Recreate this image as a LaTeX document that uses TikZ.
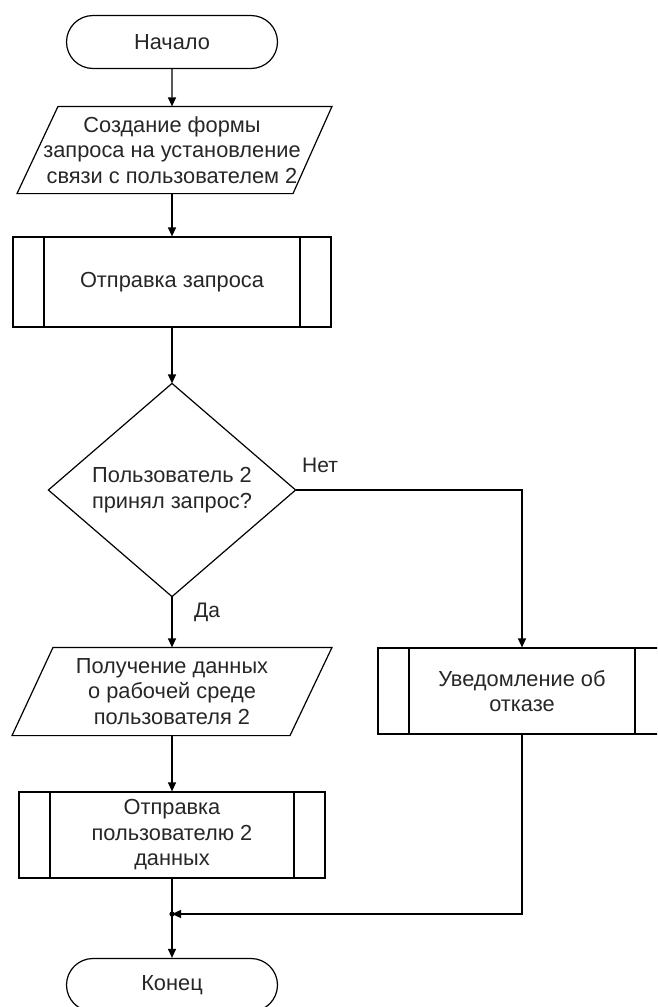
\documentclass[tikz,border=0pt]{standalone}
\usepackage{fontspec}
\setmainfont{Liberation Sans}
\usetikzlibrary{shapes.misc,arrows.meta,calc}
\begin{document}
\begin{tikzpicture}[x=1pt,y=-1pt,
  line width=1.2pt,
  every node/.style={text=black!85, font=\fontsize{21.8}{25.5}\selectfont, align=center, inner sep=0pt},
  term/.style={draw, rounded rectangle, minimum width=211pt, minimum height=53pt},
  proc/.style={draw, minimum height=86pt,
    path picture={
      \draw ([xshift=31pt]path picture bounding box.north west) -- ([xshift=31pt]path picture bounding box.south west);
      \draw ([xshift=-31pt]path picture bounding box.north east) -- ([xshift=-31pt]path picture bounding box.south east);
    }},
  plain/.style={minimum width=276pt, minimum height=86pt},
  arr/.style={-{Triangle[length=9pt,width=8pt]}},
  lbl/.style={font=\fontsize{21}{24}\selectfont}
]
\clip (0,0) rectangle (657,1007);

% start
\node[term] (start) at (172,42) {Начало};

% parallelogram 1
\node[plain] (p1) at (172,150) {Создание формы\\запроса на установление\\связи с пользователем 2};
\draw ($(p1.north)+(-114,0)$) -- ($(p1.north)+(160,0)$) -- ($(p1.south)+(121,0)$) -- ($(p1.south)+(-155,0)$) -- cycle;

% process 1
\node[proc, minimum width=318pt, minimum height=90pt] (b1) at (172,282) {Отправка запроса};

% decision
\node[minimum width=246pt, minimum height=212pt] (d) at (172,490) {Пользователь 2\\принял запрос?};
\draw (d.north) -- (d.east) -- (d.south) -- (d.west) -- cycle;

% parallelogram 2
\node[plain, minimum height=87pt] (p2) at (172,691.5) {Получение данных\\о рабочей среде\\пользователя 2};
\draw ($(p2.north)+(-119,0)$) -- ($(p2.north)+(160,0)$) -- ($(p2.south)+(118,0)$) -- ($(p2.south)+(-160,0)$) -- cycle;

% right process
\node[proc, minimum width=288pt] (rb) at (522,691) {Уведомление об\\отказе};

% process 3
\node[proc, minimum width=306pt] (b3) at (172,835) {Отправка\\пользователю 2\\данных};

% junction
\coordinate (j) at (172,914);
\fill (j) circle (2.6pt);

% end
\node[term] (end) at (172,985) {Конец};

% connectors
\draw[arr] (start) -- (p1);
\draw[arr] (p1) -- (b1);
\draw[arr] (b1) -- (d);
\draw[arr] (d) -- (p2);
\draw[arr] (p2) -- (b3);
\draw (b3) -- (j);
\draw[arr] (j) -- (end);
\draw[arr] (d.east) -| (rb.north);
\draw[arr] (rb.south) |- (j);

% labels
\node[lbl] (no) at (320,465) {Нет};
\node[lbl] (yes) at (207,612) {Да};
\end{tikzpicture}
\end{document}
